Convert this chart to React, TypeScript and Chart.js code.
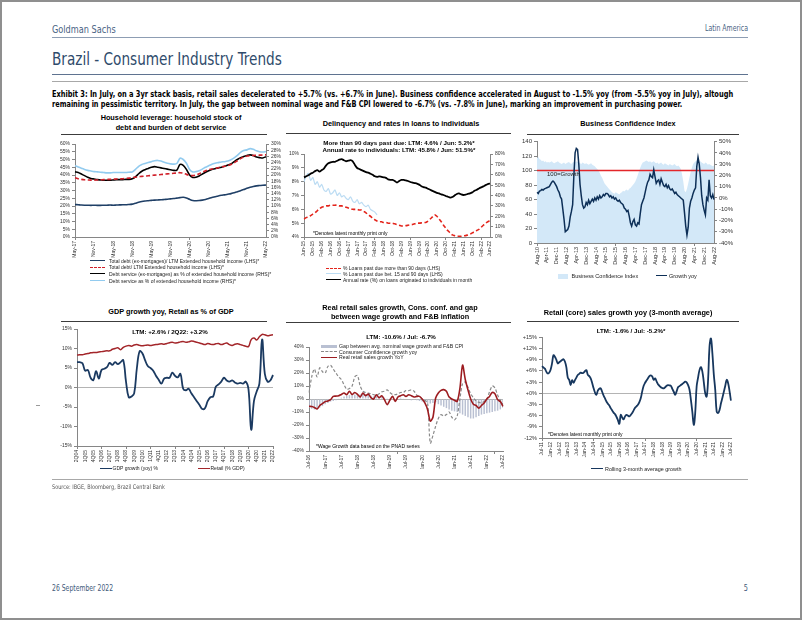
import React, { useEffect, useRef } from "react";
import { Chart, registerables } from "chart.js";
Chart.register(...registerables);

const SANS = '"Liberation Sans", Arial, Helvetica, sans-serif';
const NARROW = '"Liberation Sans Narrow", "Arial Narrow", "DejaVu Sans Condensed", sans-serif';
Chart.defaults.font.family = SANS;

const AX = "#868686";
const TICKC = "#333333";

// ---------- category helpers ----------
const MON = ["Jan", "Feb", "Mar", "Apr", "May", "Jun", "Jul", "Aug", "Sep", "Oct", "Nov", "Dec"];
function months(startYear: number, startMonth: number, count: number): string[] {
  const out: string[] = [];
  for (let i = 0; i < count; i++) {
    const m = startMonth + i;
    const y = startYear + Math.floor(m / 12);
    out.push(MON[m % 12] + "-" + String(y % 100).padStart(2, "0"));
  }
  return out;
}
function quarters(startYear: number, startQ: number, count: number): string[] {
  const out: string[] = [];
  for (let i = 0; i < count; i++) {
    const q = startQ + i;
    const y = startYear + Math.floor(q / 4);
    out.push((q % 4) + 1 + "Q" + String(y % 100).padStart(2, "0"));
  }
  return out;
}

// ---------- Chart 1: household leverage (May-17 .. May-22) ----------
const hhMonths = months(2017, 4, 61);
const hhDebtExMort = [
  21.0, 20.8, 20.6, 20.5, 20.5, 20.4, 20.5, 20.4, 20.4, 20.5,
  20.5, 20.6, 20.5, 20.6, 20.7, 20.8, 20.8, 21.0, 21.2, 21.8,
  22.4, 22.9, 23.2, 23.4, 23.6, 23.8, 23.9, 24.0, 24.2, 24.4,
  24.6, 24.8, 25.1, 25.4, 25.6, 25.2, 24.3, 23.6, 23.4, 23.5,
  23.8, 24.2, 24.8, 25.5, 26.0, 26.5, 26.9, 27.2, 27.6, 28.0,
  28.5, 29.2, 29.9, 30.6, 31.4, 32.1, 32.6, 33.0, 33.2, 33.4, 33.5,
];
const hhTotalDebt = [
  38.2, 37.6, 37.2, 36.9, 36.8, 36.7, 36.7, 36.8, 36.9, 37.0,
  37.1, 37.2, 37.3, 37.4, 37.5, 37.6, 37.8, 38.0, 38.3, 38.6,
  38.9, 39.1, 39.3, 39.5, 39.7, 39.9, 40.1, 40.3, 40.5, 40.7,
  40.9, 41.1, 41.3, 41.5, 41.2, 40.4, 39.8, 39.6, 40.0, 40.8,
  41.8, 42.7, 43.4, 43.9, 44.3, 44.7, 45.2, 45.6, 46.1, 46.8,
  47.8, 49.2, 50.6, 51.6, 52.2, 52.5, 52.6, 52.7, 52.8, 52.9, 53.0,
];
const hhServiceExMort = [
  21.0, 20.8, 20.3, 19.8, 19.3, 18.9, 18.7, 18.5, 18.4, 18.3,
  18.3, 18.3, 18.4, 18.5, 18.5, 18.5, 18.6, 18.6, 18.8, 19.4,
  20.4, 21.2, 21.7, 22.1, 22.5, 22.7, 22.5, 22.3, 22.1, 21.9,
  21.7, 21.5, 21.6, 23.4, 23.1, 21.8, 20.0, 19.2, 19.3, 19.7,
  20.3, 20.9, 21.4, 21.8, 22.0, 22.3, 22.5, 22.8, 23.2, 23.6,
  24.3, 25.0, 25.6, 26.0, 26.3, 26.5, 26.3, 25.8, 25.6, 25.5, 25.9,
];
const hhServiceTotal = [
  23.0, 22.6, 22.2, 21.8, 21.5, 21.3, 21.1, 21.0, 20.9, 20.8,
  20.7, 20.7, 20.8, 20.8, 20.8, 20.8, 20.8, 20.9, 21.0, 21.8,
  22.8, 23.4, 23.7, 24.0, 24.3, 24.6, 24.7, 24.5, 24.1, 23.8,
  23.6, 23.5, 23.7, 25.4, 25.0, 23.8, 21.8, 21.0, 21.1, 21.4,
  21.9, 22.5, 23.0, 23.5, 23.8, 24.0, 24.2, 24.3, 24.5, 24.9,
  25.5, 26.3, 27.3, 27.9, 28.1, 28.5, 28.3, 27.8, 27.5, 27.4, 27.6,
];

// ---------- Chart 2: delinquency (Jun-15 .. Jun-22) ----------
const dlqMonths = months(2015, 5, 85);
const dlqRate = [
  57.5, 58.5, 59.5, 61.0, 62.0, 63.5, 64.5, 63.0, 64.5, 66.0,
  69.0, 71.0, 72.0, 72.5, 72.5, 73.5, 74.5, 75.0, 74.0, 73.0,
  73.5, 74.0, 73.0, 69.5, 66.5, 65.5, 64.5, 63.5, 62.5, 62.0,
  61.0, 60.0, 58.5, 58.0, 58.5, 58.0, 57.5, 57.0, 55.5, 55.0,
  55.0, 54.0, 52.5, 54.0, 55.0, 55.0, 54.5, 54.0, 53.0, 52.5,
  52.0, 51.5, 50.5, 49.0, 48.0, 47.5, 46.5, 45.5, 44.5, 43.5,
  42.5, 42.0, 41.0, 40.5, 39.5, 38.8, 38.0, 38.5, 40.0, 41.5,
  42.0, 41.0, 40.5, 40.8, 41.5, 42.0, 43.0, 44.5, 45.5, 46.8,
  47.8, 48.8, 50.0, 51.0, 51.5,
];
const dlqOver90 = [
  5.3, 5.4, 5.45, 5.55, 5.65, 5.75, 5.9, 6.05, 6.15, 6.2,
  6.25, 6.25, 6.3, 6.3, 6.3, 6.3, 6.25, 6.25, 6.2, 6.15,
  6.1, 6.05, 6.0, 6.0, 6.0, 5.95, 5.95, 5.85, 5.75, 5.6,
  5.5, 5.35, 5.25, 5.15, 5.1, 5.1, 5.05, 5.05, 5.0, 5.0,
  5.0, 4.95, 4.9, 4.85, 4.8, 4.8, 4.82, 4.85, 4.88, 4.9,
  4.95, 5.0, 5.0, 5.02, 5.05, 5.05, 5.15, 5.3, 5.45, 5.6,
  5.5, 5.3, 5.1, 4.85, 4.65, 4.45, 4.3, 4.15, 4.1, 4.05,
  4.05, 4.05, 4.08, 4.1, 4.15, 4.2, 4.3, 4.38, 4.47, 4.55,
  4.7, 4.85, 5.0, 5.1, 5.2,
];
const dlq15to90 = [
  8.0, 8.4, 8.6, 8.1, 8.3, 7.8, 8.0, 7.6, 7.8, 7.4,
  7.3, 7.5, 7.1, 7.2, 7.4, 7.0, 7.2, 6.9, 7.0, 6.8,
  6.7, 6.9, 6.6, 6.5, 6.7, 6.4, 6.5, 6.3, 6.2, 6.3,
  6.0, 5.9, 5.8, 5.6,
];

// ---------- Chart 3: business confidence (Aug-10 .. Aug-22) ----------
const bciMonths = months(2010, 7, 145);
const bciIndex = [
  117, 119, 116, 115, 113, 114, 112, 113, 111, 112,
  111, 112, 113, 111, 110, 111, 112, 113, 111, 110,
  109, 110, 111, 109, 110, 111, 112, 110, 109, 111,
  112, 111, 113, 112, 111, 110, 109, 111, 110, 109,
  110, 109, 108, 109, 110, 108, 107, 106, 104, 102,
  100, 97, 93, 90, 86, 82, 80, 78, 76, 74,
  72, 70, 69, 68, 70, 69, 68, 67, 69, 70,
  72, 71, 73, 74, 72, 75, 76, 78, 80, 82,
  85, 89, 94, 99, 104, 108, 111, 112, 113, 114,
  113, 112, 113, 111, 112, 113, 111, 110, 111, 109,
  110, 111, 109, 108, 110, 109, 108, 107, 109, 108,
  107, 108, 109, 107, 106, 107, 105, 102, 95, 85,
  72, 70, 75, 82, 90, 98, 104, 109, 111, 113,
  114, 113, 112, 113, 111, 110, 109, 111, 110, 108,
  109, 108, 107, 106, 107,
];
const bciGrowth = [
  5, 4, 6, 6.5, 7.5, 7, 8, 8.5, 9, 9.5,
  10, 12, 14, 15, 14, 12, 10, 7, 5, 1,
  -1, -10, -19, -30, -29, -28, -25, -17, -12, -6,
  20, 40, 44, 43, 30, 12, 2, -6, -9, -8,
  -4, -6, -2, -5, -3, -1, -3, 0, -2, 1,
  -1, 2, 0, 1, 3, 2, 4, 4, 3, 1,
  2, 0, 1, -1, 0, -2, -3, -2, -4, -5,
  -6, -9, -10, -12, -11, -16, -22, -25, -21, -19,
  -24, -25, -22, -23, -14, -6, -3, 0, 5, 10,
  14, 16, 21, 19, 18, 25, 19, 13, 15, 16,
  12, 17, 14, 11, 10, 12, 9, 11, 8, 7,
  8, 6, 4, 5, 3, 2, 1, 0, -1, -2,
  -13, -25, -33, -26, -9, -3, 0, 4, 7, 9,
  28, 36, 30, 18, 2, -6, -11, -15, 0, -2,
  16, 2, 0, 3, -1.5,
];
const BCI_GROWTH_LEVEL = 100;

// ---------- Chart 4: GDP growth & retail share (2Q04 .. 2Q22) ----------
const gdpQuarters = quarters(2004, 1, 73);
const gdpYoy = [
  6.5, 6.5, 6.2, 4.3, 4.5, 2.5, 1.9, 4.2, 2.3, 4.5,
  4.8, 5.2, 6.3, 5.8, 6.5, 6.0, 6.5, 7.0, 1.5, -2.5,
  -2.3, -1.5, 5.0, 9.3, 8.8, 7.0, 5.5, 5.0, 4.3, 3.0,
  2.0, 1.0, 2.3, 2.5, 2.5, 3.8, 3.0, 2.6, 3.5, -0.3,
  -0.7, -0.3, -1.5, -2.5, -3.5, -4.5, -5.5, -5.3, -3.5, -2.5,
  -2.3, 0.2, 0.8, 1.5, 2.5, 1.8, 1.5, 1.8, 1.3, 1.0,
  1.2, 1.0, 1.5, -0.5, -10.8, -3.5, -1.0, 1.0, 12.3, 3.5,
  1.5, 1.8, 3.2,
];
const retailGdp = [
  8.3, 8.4, 8.4, 8.6, 8.7, 8.9, 9.0, 9.0, 9.1, 9.2,
  9.3, 9.4, 9.4, 9.8, 10.0, 10.2, 9.7, 10.3, 10.6, 10.8,
  10.6, 10.9, 11.0, 10.8, 10.7, 10.8, 10.9, 10.8, 10.9, 11.0,
  11.1, 11.2, 11.1, 11.3, 11.5, 11.6, 11.4, 11.5, 11.7, 11.8,
  11.6, 11.7, 11.9, 11.8, 11.6, 11.4, 11.2, 11.0, 11.3, 11.1,
  11.0, 11.2, 11.3, 11.0, 11.2, 11.4, 11.0, 10.8, 11.1, 11.2,
  11.0, 10.8, 10.6, 10.5, 12.3, 12.7, 12.2, 13.0, 13.6, 13.5,
  13.3, 13.4, 13.5,
];

// ---------- Chart 5: real retail, confidence, wage gap (Jul-16 .. Jul-22) ----------
const rrMonths = months(2016, 6, 73);
const rrGap = [
  -7, -7.5, -8, -7, -6.5, -5.5,
  -4, -3, -2, -1.5, -1, 0.5, 1, 2,
  2.5, 3, 3, 3.5, 3, 3.5, 4, 3.5, 3, 2.5, 2, 2.5, 2, 1.5, 1, 0.5,
  0.5, 0, -0.5, 0.5, 1, 0.5, 0, -0.5, -1, -0.5, -1, -1.5, -2, -2.5,
  -3, -3.5, -3, -2.5, -4,
  -5, -6, -7, -8, -9, -9.5, -10,
  -11, -12, -13, -14, -15, -15, -14, -13,
  -12, -11.5, -11, -10.5, -10, -9.5, -9, -8, -6.7,
];
const rrConfidence = [
  5, 17, 23, 17, 24, 21, 20, 25, 26, 23,
  20, 17, 15, 11, 7.5, 8, 10, 17, 18, 10,
  6, 5, 4.5, 4, 3.3, 3, 4, 5.5, 6, 7,
  5, 3.5, 3.3, 4, 5, 5, 6.5, 6.5, 7, 6,
  3, 2, 0, -1, -3, -34, -28, -21, -15, -12,
  -13, -12, -10, -14, -16, -13, 0, 12, 13, 9,
  4, 1, -1.5, -2.5, -3, -2, 0, 5.5, 10, 8.5,
  3, -1, -4.3,
];
const rrRetail = [
  -5.6, -5.8, -6.5, -7.7, -5, -3.5, -2, -1.5, -0.5, 2,
  2.2, 2.5, 3.5, 4.6, 3.3, 5.9, 3.5, 5, 3.5, 1.5,
  4.6, 2.5, 3.8, 1, 0, 3.3, 1, 2.5, -0.5, -4.3,
  -1, 2, -1.8, 1.5, 2.5, 3.3, 2, 3.3, 2.5, 1.5,
  2, 2, 0, -3, -8, -17, -14, 0.8, 4.6, 6.6,
  7.2, 5.9, 1.5, 0, -1, -1.8, 8, 26, 15, 7,
  0, -4, -5, -7, -5, -3, 0, 2, 5, 4,
  -0.5, -2, -5.6,
];

// ---------- Chart 6: retail core 3m avg (Jul-11 .. Jul-22) ----------
const rcMonths = months(2011, 6, 133);
const rcGrowth = [
  7.3, 6.9, 6.6, 5.8, 5.3, 5.5, 6.3, 8.0, 10.2, 9.8,
  9.0, 8.0, 8.3, 8.6, 8.9, 9.1, 8.5, 7.0, 4.2, 3.6,
  2.2, 3.5, 2.8, 3.5, 4.2, 4.9, 5.2, 5.5, 5.4, 5.5,
  5.9, 6.2, 4.9, 4.6, 4.0, 2.8, 1.4, 0.2, -0.4, 0.7,
  1.2, 1.3, 0.4, -0.6, -1.4, -2.2, -2.8, -3.3, -4.0, -4.6,
  -5.2, -5.6, -6.3, -7.2, -8.2, -5.8, -6.5, -7.0, -6.2, -5.8,
  -6.0, -6.2, -5.8, -5.3, -4.6, -3.9, -3.5, -3.1, -2.4, -1.3,
  0.5, 2.0, 2.8, 3.4, 4.0, 4.6, 4.8, 4.5, 3.6, 4.0,
  3.2, 2.4, 2.0, 1.6, 1.4, 1.3, 1.6, 2.0, 2.2, 2.1,
  2.0, 1.2, 0.4, -0.4, 0.5, 1.6, 1.9, 2.2, 2.5, 2.8,
  3.1, 2.9, 2.2, 1.0, -1.8, -5.0, -8.5, -5.3, 1.8, 4.2,
  6.2, 7.0, 5.8, 3.0, 0.0, -0.9, 3.6, 12.5, 14.7, 10.7,
  5.0, 0.9, -4.9, -5.3, -4.5, -2.7, -1.2, 0.4, 2.0, 3.6,
  2.7, 0.5, -2.0,
];

// ---------- axis helpers ----------
const pct = (v: any) => v + "%";
const plain = (v: any) => String(v);
const signedPct = (v: any) => (v >= 0 ? "+" : "") + v + "%";

function xAxis(cats: string[], every: number, height: number, size = 5) {
  return {
    type: "category",
    offset: false,
    afterFit: (s: any) => { s.height = height; },
    ticks: {
      autoSkip: false, minRotation: 90, maxRotation: 90, padding: 1,
      font: { size }, color: TICKC,
      callback: (_v: any, i: number) => (i % every === 0 ? cats[i] : null),
    },
    grid: {
      drawOnChartArea: false, tickLength: 3,
      color: (c: any) => (c.index % every === 0 ? AX : "rgba(0,0,0,0)"),
    },
    border: { color: AX, width: 1 },
  };
}
function yAxis(position: string, min: number, max: number, step: number, fmt: any, width: number, zero = false, size = 5) {
  return {
    position, min, max,
    afterFit: (s: any) => { s.width = width; },
    ticks: { stepSize: step, autoSkip: false, font: { size }, color: TICKC, padding: 2, callback: fmt },
    grid: zero
      ? { drawOnChartArea: true, tickLength: 3, tickColor: AX, color: (c: any) => (c.tick && c.tick.value === 0 ? "#b4b4b4" : "rgba(0,0,0,0)") }
      : { drawOnChartArea: false, tickLength: 3, color: AX },
    border: { color: AX, width: 1 },
  };
}
function opts(scales: any, tension: number, padRight = 0) {
  return {
    responsive: false, animation: false, maintainAspectRatio: false,
    layout: { padding: { top: 5, right: padRight, bottom: 0, left: 0 } },
    plugins: { legend: { display: false }, tooltip: { enabled: false } },
    elements: { point: { radius: 0 }, line: { tension } },
    scales,
  };
}

// threshold line (drawn through the library's y scale) after the area dataset
const growthLinePlugin = {
  id: "growthLine",
  afterDatasetDraw(chart: any, args: any) {
    if (args.index !== 1) return;
    const y = chart.scales.y.getPixelForValue(BCI_GROWTH_LEVEL);
    const { left, right } = chart.chartArea;
    const ctx = chart.ctx;
    ctx.save();
    ctx.strokeStyle = "#e3262a";
    ctx.lineWidth = 1.6;
    ctx.beginPath();
    ctx.moveTo(left, y);
    ctx.lineTo(right, y);
    ctx.stroke();
    ctx.restore();
  },
};

// ---------- configs ----------
const cfg1 = () => ({
  type: "line",
  data: {
    labels: hhMonths,
    datasets: [
      { data: hhTotalDebt, yAxisID: "y", borderColor: "#d0202a", borderDash: [4, 2.5], borderWidth: 1.6 },
      { data: hhServiceExMort, yAxisID: "y1", borderColor: "#000000", borderWidth: 1.6 },
      { data: hhDebtExMort, yAxisID: "y", borderColor: "#1f3f66", borderWidth: 1.6 },
      { data: hhServiceTotal, yAxisID: "y1", borderColor: "#92cbef", borderWidth: 1.6 },
    ],
  },
  options: opts({
    x: xAxis(hhMonths, 6, 22),
    y: yAxis("left", 0, 60, 5, pct, 40),
    y1: yAxis("right", 0, 30, 2, pct, 22),
  }, 0.3),
});

const cfg2 = () => ({
  type: "line",
  data: {
    labels: dlqMonths,
    datasets: [
      { data: dlqOver90, yAxisID: "y", borderColor: "#e3241b", borderDash: [4, 2.5], borderWidth: 1.6 },
      { data: dlqRate, yAxisID: "y1", borderColor: "#000000", borderWidth: 1.8 },
      { data: dlq15to90, yAxisID: "y", borderColor: "#bcdcf3", borderWidth: 1.2 },
    ],
  },
  options: opts({
    x: xAxis(dlqMonths, 4, 22),
    y: yAxis("left", 4, 10, 1, pct, 20),
    y1: yAxis("right", 0, 80, 10, pct, 18),
  }, 0.25),
});

const cfg3 = () => ({
  type: "line",
  data: {
    labels: bciMonths,
    datasets: [
      { data: bciGrowth, yAxisID: "y1", borderColor: "#0d2f57", borderWidth: 1.5, tension: 0, order: 0 },
      { data: bciIndex, yAxisID: "y", borderColor: "rgba(0,0,0,0)", borderWidth: 0, backgroundColor: "#d3e8f8", fill: "origin", tension: 0, order: 1 },
    ],
  },
  options: opts({
    x: xAxis(bciMonths, 8, 24, 5.5),
    y: yAxis("left", 0, 140, 20, plain, 22, false, 6),
    y1: yAxis("right", -40, 50, 10, pct, 22, false, 6),
  }, 0),
  plugins: [growthLinePlugin],
});

const cfg4 = () => ({
  type: "line",
  data: {
    labels: gdpQuarters,
    datasets: [
      { data: gdpYoy, borderColor: "#1b3a61", borderWidth: 1.8 },
      { data: retailGdp, borderColor: "#a3262a", borderWidth: 1.5 },
    ],
  },
  options: opts({
    x: xAxis(gdpQuarters, 3, 20),
    y: yAxis("left", -15, 15, 5, pct, 30, true),
  }, 0.4, 6),
});

const cfg5 = () => ({
  type: "bar",
  data: {
    labels: rrMonths,
    datasets: [
      { type: "line", data: rrRetail, borderColor: "#9c1c20", borderWidth: 1.6, order: 0 },
      { type: "line", data: rrConfidence, borderColor: "#8a8a8a", borderDash: [3, 2], borderWidth: 1.2, order: 1 },
      { type: "bar", data: rrGap, backgroundColor: "#b9c0d2", barPercentage: 0.55, categoryPercentage: 1, order: 2 },
    ],
  },
  options: opts({
    x: xAxis(rrMonths, 6, 18),
    y: yAxis("left", -40, 40, 10, pct, 24, true),
  }, 0.3, 6),
});

const cfg6 = () => ({
  type: "line",
  data: {
    labels: rcMonths,
    datasets: [{ data: rcGrowth, borderColor: "#17375e", borderWidth: 1.8 }],
  },
  options: opts({
    x: xAxis(rcMonths, 6, 22),
    y: yAxis("left", -12, 15, 3, signedPct, 22, true, 5.5),
  }, 0.4, 6),
});

// ---------- components ----------
function ChartBox({ left, top, width, height, config }: any) {
  const ref = useRef<HTMLCanvasElement>(null);
  useEffect(() => {
    const chart = new Chart(ref.current as HTMLCanvasElement, config() as any);
    return () => chart.destroy();
  }, []);
  return (
    <div style={{ position: "absolute", left, top, width, height }}>
      <canvas ref={ref} width={width} height={height} style={{ width, height, display: "block" }} />
    </div>
  );
}

function T({ x, y, size, children, bold = false, color = "#000", align = "left", font = SANS, sx = 1 }: any) {
  const lh = size * 1.2;
  const style: any = {
    position: "absolute", top: y - lh / 2, fontSize: size, lineHeight: lh + "px",
    fontFamily: font, fontWeight: bold ? 700 : 400, color, whiteSpace: "nowrap",
  };
  if (align === "center") { style.left = x - 250; style.width = 500; style.textAlign = "center"; }
  else if (align === "right") { style.left = x - 500; style.width = 500; style.textAlign = "right"; }
  else style.left = x;
  if (sx !== 1) {
    style.transform = `scaleX(${sx})`;
    style.transformOrigin = align === "right" ? "right center" : align === "center" ? "center center" : "left center";
  }
  return <div style={style}>{children}</div>;
}

function HL({ x1, x2, y, w = 1, color = "#000", dash = false }: any) {
  return (
    <div style={{
      position: "absolute", left: x1, top: y - w / 2, width: x2 - x1, height: 0,
      borderTop: `${w}px ${dash ? "dashed" : "solid"} ${color}`,
    }} />
  );
}

function Patch({ x, y, w, h, color }: any) {
  return <div style={{ position: "absolute", left: x, top: y - h / 2, width: w, height: h, background: color }} />;
}

function LegendRow({ x1, x2, tx, y, color, dash = false, w = 1.6, text, size = 5 }: any) {
  return (
    <>
      <HL x1={x1} x2={x2} y={y} w={w} color={color} dash={dash} />
      <T x={tx} y={y} size={size} color="#222">{text}</T>
    </>
  );
}

const NX = 0.865;

export default function App() {
  return (
    <div style={{ position: "absolute", left: 0, top: 0, width: 802, height: 620, background: "#fff", overflow: "hidden" }}>
      {/* Header */}
      <T x={52} y={29} size={10.5} font={NARROW} color="#4a6383" sx={NX}>Goldman Sachs</T>
      <T x={748} y={29} size={8} font={NARROW} color="#4a6383" align="right" sx={NX}>Latin America</T>
      <HL x1={52} x2={748} y={37} w={1} color="#8d9db3" />
      <T x={52} y={59} size={17.5} font={NARROW} color="#2f4b6b" sx={NX}>Brazil - Consumer Industry Trends</T>
      <HL x1={52} x2={748} y={75} w={1.5} color="#5f7390" />
      <HL x1={52} x2={748} y={82} w={1.5} color="#a8a8a8" />
      <T x={52} y={93.7} size={8.5} bold font={NARROW} color="#000" sx={0.868}>
        Exhibit 3: In July, on a 3yr stack basis, retail sales decelerated to +5.7% (vs. +6.7% in June). Business confidence accelerated in August to -1.5% yoy (from -5.5% yoy in July), altough
      </T>
      <T x={52} y={104.3} size={8.5} bold font={NARROW} color="#000" sx={0.855}>
        remaining in pessimistic territory. In July, the gap between nominal wage and F&amp;B CPI lowered to -6.7% (vs. -7.8% in June), marking an improvement in purchasing power.
      </T>

      {/* Chart 1 */}
      <T x={171} y={118.7} size={7.3} bold align="center">Household leverage: household stock of</T>
      <T x={171} y={128.7} size={7.3} bold align="center">debt and burden of debt service</T>
      <HL x1={61} x2={267} y={134.3} w={1.5} color="#3c3c3c" />
      <ChartBox left={35} top={139} width={253} height={120} config={cfg1} />
      <LegendRow x1={90} x2={105} tx={109} y={261} color="#1f3f66" text="Total debt (ex-mortgages)/ LTM Extended household income (LHS)*" />
      <LegendRow x1={90} x2={105} tx={109} y={267.4} color="#d0202a" dash text="Total debt/ LTM Extended household income (LHS)*" />
      <LegendRow x1={90} x2={105} tx={109} y={274.2} color="#000" text="Debt service (ex-mortgages) as % of extended household income (RHS)*" />
      <LegendRow x1={90} x2={105} tx={109} y={280.8} color="#92cbef" text="Debt service as % of extended household income (RHS)*" />

      {/* Chart 2 */}
      <T x={401} y={124.3} size={7.3} bold align="center">Delinquency and rates in loans to individuals</T>
      <HL x1={286} x2={511} y={133.7} w={1.5} color="#3c3c3c" />
      <ChartBox left={284} top={149} width={224} height={110} config={cfg2} />
      <T x={399} y={143} size={6.2} bold align="center">More than 90 days past due: LTM: 4.6% / Jun: 5.2%*</T>
      <T x={399} y={149.3} size={6.2} bold align="center">Annual rate to individuals: LTM: 45.8% / Jun: 51.5%*</T>
      <T x={313} y={232.7} size={5}>*Denotes latest monthly print only</T>
      <LegendRow x1={326} x2={341} tx={343} y={268.3} color="#e3241b" dash text="% Loans past due more than 90 days (LHS)" />
      <LegendRow x1={326} x2={341} tx={343} y={274} color="#bcdcf3" text="% Loans past due bet. 15 and 90 days (LHS)" />
      <LegendRow x1={326} x2={341} tx={343} y={280} color="#000" text="Annual rate (%) on loans originated to individuals in month" />

      {/* Chart 3 */}
      <T x={628} y={124.3} size={7.3} bold align="center">Business Confidence Index</T>
      <HL x1={527} x2={739} y={134.3} w={1.5} color="#3c3c3c" />
      <ChartBox left={515} top={136} width={221} height={131} config={cfg3} />
      <T x={547} y={174.3} size={6} color="#222">100=Growth</T>
      <Patch x={558} y={276} w={10} h={5} color="#d3e8f8" />
      <T x={571.5} y={276} size={5.5} color="#222">Business Confidence Index</T>
      <HL x1={656} x2={667} y={276} w={1.6} color="#0d2f57" />
      <T x={669} y={276} size={5.5} color="#222">Growth yoy</T>

      {/* Chart 4 */}
      <T x={171} y={312.3} size={7.3} bold align="center">GDP growth yoy, Retail as % of GDP</T>
      <HL x1={61} x2={267} y={321.7} w={1.5} color="#3c3c3c" />
      <ChartBox left={47} top={324} width={233} height={142} config={cfg4} />
      <T x={170} y={331.7} size={6.2} bold align="center">LTM: +2.6% / 2Q22: +3.2%</T>
      <LegendRow x1={100} x2={112} tx={112.5} y={468.3} color="#1b3a61" text="GDP growth (yoy) %" />
      <LegendRow x1={198} x2={210} tx={210.5} y={468.3} color="#a3262a" text="Retail (% GDP)" />

      {/* Chart 5 */}
      <T x={400} y={308.3} size={7.3} bold align="center">Real retail sales growth, Cons. conf. and gap</T>
      <T x={400} y={317.3} size={7.3} bold align="center">between wage growth and F&amp;B inflation</T>
      <HL x1={286} x2={511} y={322.3} w={1.5} color="#3c3c3c" />
      <ChartBox left={285} top={342} width={225} height={127} config={cfg5} />
      <T x={401} y={336.7} size={6.2} bold align="center">LTM: -10.6% / Jul: -6.7%</T>
      <Patch x={321} y={346} w={16} h={3} color="#b9c0d2" />
      <T x={339} y={346} size={5.2} color="#222">Gap between avg. nominal wage growth and F&amp;B CPI</T>
      <LegendRow x1={321} x2={337} tx={339} y={351.7} color="#8a8a8a" dash w={1.3} text="Consumer Confidence growth yoy" size={5.2} />
      <LegendRow x1={321} x2={337} tx={339} y={357.3} color="#9c1c20" text="Real retail sales growth YoY" size={5.2} />
      <T x={316} y={446} size={5}>*Wage Growth data based on the PNAD series</T>

      {/* Chart 6 */}
      <T x={628} y={313.3} size={7.3} bold align="center">Retail (core) sales growth yoy (3-month average)</T>
      <HL x1={527} x2={739} y={321.7} w={1.5} color="#3c3c3c" />
      <ChartBox left={520} top={332} width={218} height={128} config={cfg6} />
      <T x={631} y={330.7} size={6.2} bold align="center">LTM: -1.6% / Jul: -5.2%*</T>
      <T x={548} y={434} size={5}>*Denotes latest monthly print only</T>
      <LegendRow x1={591} x2={603} tx={605} y={469.3} color="#17375e" w={1.8} text="Rolling 3-month average growth" size={5.4} />

      {/* Footer */}
      <HL x1={36} x2={40} y={405} w={1} color="#9a9a9a" />
      <HL x1={52} x2={748} y={480} w={1.5} color="#a8a8a8" />
      <T x={52} y={487} size={6.3} font={NARROW} color="#555" sx={0.876}>Source: IBGE, Bloomberg, Brazil Central Bank</T>
      <T x={52} y={588} size={8.5} font={NARROW} color="#3f5a7a" sx={0.8}>26 September 2022</T>
      <T x={748} y={588} size={8.5} font={NARROW} color="#3f5a7a" align="right" sx={0.85}>5</T>

      {/* page frame */}
      <div style={{ position: "absolute", left: 0, top: 0, width: 802, height: 620, boxSizing: "border-box", border: "2px solid #8f8f8f", pointerEvents: "none" }} />
    </div>
  );
}
